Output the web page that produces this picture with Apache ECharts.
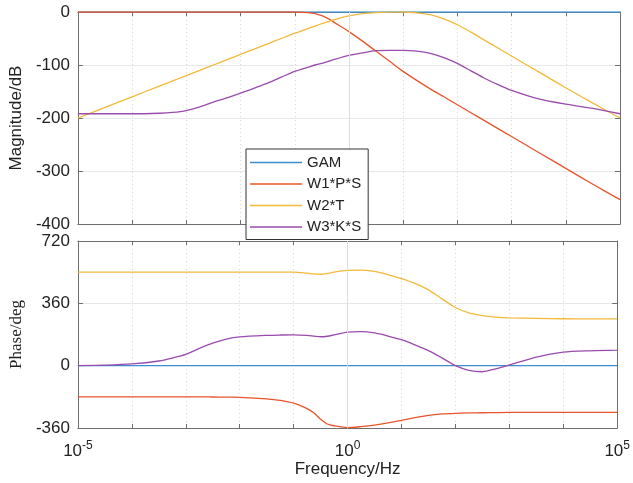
<!DOCTYPE html>
<html>
<head>
<meta charset="utf-8">
<script src="https://cdn.jsdelivr.net/npm/echarts@6/dist/echarts.min.js"></script>
<style>
  html, body { margin: 0; padding: 0; background: #fff; }
  #chart { width: 633px; height: 483px; }
</style>
</head>
<body>
<div id="chart"></div>
<script>
// Frequency grid as log10(f / Hz)
const logFreq = [-5, -4.5, -4, -3.5, -3.25, -3, -2.75, -2.5, -2.25, -2, -1.5, -1.25, -1, -0.75, -0.625, -0.5, -0.375, -0.25,
  0, 0.25, 0.5, 0.75, 1, 1.25, 1.5, 1.75, 2, 2.25, 2.5, 2.75, 3, 3.5, 4, 4.5, 5];

const seriesNames = ['GAM', 'W1*P*S', 'W2*T', 'W3*K*S'];

// Magnitude responses (dB)
const magGAM = [0, 0, 0, 0, 0, 0, 0, 0, 0, 0, 0, 0, 0, 0, 0, 0, 0, 0,
  0, 0, 0, 0, 0, 0, 0, 0, 0, 0, 0, 0, 0, 0, 0, 0, 0];
const magW1PS = [0, 0, 0, 0, 0, 0, 0, 0, 0, 0, 0, 0, 0, -1, -3, -7, -13, -21,
  -37, -55, -74, -93, -112, -129, -145, -160, -175, -190, -205, -220, -235, -265, -295, -325, -354];
const magW2T = [-200, -180, -160, -140, -130, -120, -110, -100, -90, -80, -60, -50, -40, -31, -26.5, -22, -18, -14,
  -7.5, -3, -1, -0.3, 0, -1.5, -5, -13, -24, -38, -53, -68, -83, -113, -143, -172, -200];
const magW3KS = [-192, -192, -192, -191, -189.5, -186, -179, -170, -162, -153, -134, -123, -112, -104, -100, -97, -93, -89,
  -82, -77, -73, -72.5, -72.5, -74, -78, -86, -97, -111, -125, -137, -148, -164, -174, -182, -192];

// Phase responses (deg)
const phGAM = [0, 0, 0, 0, 0, 0, 0, 0, 0, 0, 0, 0, 0, 0, 0, 0, 0, 0,
  0, 0, 0, 0, 0, 0, 0, 0, 0, 0, 0, 0, 0, 0, 0, 0, 0];
const phW1PS = [-180, -180, -180, -180, -180, -180, -180, -181, -182, -183, -192, -201, -217, -248, -272, -310, -337, -347,
  -358, -352, -343, -330, -316, -300, -287, -279, -275, -273, -272, -271, -270, -270, -270, -270, -270];
const phW2T = [540, 540, 540, 540, 540, 540, 540, 540, 540, 540, 540, 540, 540, 534, 530, 528, 532, 540,
  550, 552, 544, 526, 503, 475, 438, 386, 336, 305, 289, 280, 276, 273, 271, 270, 270];
const phW3KS = [0, 3, 10, 27, 44, 65, 100, 130, 153, 166, 175, 177, 178, 175, 171, 167, 170, 178,
  194, 197, 189, 171, 150, 120, 87, 45, 0, -27, -35, -18, 4, 50, 78, 86, 90];

const colors = ['#3b8ed0', '#e8552a', '#f2b93a', '#9b4aae'];
const FONT = 'Liberation Sans, Arial, sans-serif';
const axisColor = '#6e6e6e';
const textColor = '#222';

function pairs(vals) {
  return logFreq.map((x, i) => [x, vals[i]]);
}

function xAxisPair(gridIndex, withLabels) {
  return [
    {
      type: 'value', gridIndex: gridIndex, position: 'bottom',
      min: -5, max: 5, interval: 1,
      axisLine: { show: true, onZero: false, lineStyle: { color: axisColor, width: 1 } },
      axisTick: { show: true, inside: true, length: 4, lineStyle: { color: axisColor } },
      splitLine: { show: true, lineStyle: { color: '#d6d6d6', type: [1, 3], width: 1 } },
      axisLabel: withLabels ? {
        show: true, margin: 12, showMinLabel: true, showMaxLabel: true, hideOverlap: false,
        formatter: function (v) {
          if (v === -5 || v === 0 || v === 5) return '{b|10}{s|' + v + '}';
          return '';
        },
        rich: {
          b: { fontFamily: FONT, fontSize: 17, color: textColor },
          s: { fontFamily: FONT, fontSize: 12, color: textColor, padding: [0, 0, 10, 0] }
        }
      } : { show: false },
      name: withLabels ? 'Frequency/Hz' : '',
      nameLocation: 'middle', nameGap: 33,
      nameTextStyle: { fontFamily: FONT, fontSize: 17, color: textColor }
    },
    {
      type: 'value', gridIndex: gridIndex, position: 'top',
      min: -5, max: 5, interval: 1,
      axisLine: { show: true, onZero: false, lineStyle: { color: axisColor, width: 1 } },
      axisTick: { show: true, inside: true, length: 4, lineStyle: { color: axisColor } },
      splitLine: { show: false },
      axisLabel: { show: false }
    }
  ];
}

function yAxisPair(gridIndex, min, max, interval, name, nameFont) {
  return [
    {
      type: 'value', gridIndex: gridIndex, position: 'left',
      min: min, max: max, interval: interval,
      axisLine: { show: true, onZero: false, lineStyle: { color: axisColor, width: 1 } },
      axisTick: { show: true, inside: true, length: 5, lineStyle: { color: axisColor } },
      splitLine: { show: true, lineStyle: { color: '#e8e8e8', width: 1 } },
      axisLabel: { show: true, margin: 8, fontFamily: FONT, fontSize: 17, color: textColor },
      name: name, nameLocation: 'middle', nameGap: 49,
      nameTextStyle: { fontFamily: nameFont, fontSize: 17, color: textColor }
    },
    {
      type: 'value', gridIndex: gridIndex, position: 'right',
      min: min, max: max, interval: interval,
      axisLine: { show: true, onZero: false, lineStyle: { color: axisColor, width: 1 } },
      axisTick: { show: true, inside: true, length: 5, lineStyle: { color: axisColor } },
      splitLine: { show: false },
      axisLabel: { show: false }
    }
  ];
}

function lineSeries(name, vals, color, xIdx, yIdx, extra) {
  return Object.assign({
    type: 'line', name: name, data: pairs(vals),
    xAxisIndex: xIdx, yAxisIndex: yIdx,
    symbol: 'none', smooth: 0.25,
    lineStyle: { color: color, width: 1.3 },
    itemStyle: { color: color },
    animation: false
  }, extra || {});
}

// Solid major grid line at 10^0
const majorX = {
  silent: true, symbol: 'none', label: { show: false },
  lineStyle: { color: '#dedede', type: 'solid', width: 1 },
  data: [{ xAxis: 0 }],
  animation: false
};

const chart = echarts.init(document.getElementById('chart'), null, { renderer: 'canvas' });

chart.setOption({
  backgroundColor: '#ffffff',
  animation: false,
  grid: [
    { left: 77, right: 13, top: 12, height: 212 },
    { left: 77, right: 13, top: 241, height: 187 }
  ],
  xAxis: [].concat(xAxisPair(0, false), xAxisPair(1, true)),
  yAxis: [].concat(
    yAxisPair(0, -400, 0, 100, 'Magnitude/dB', FONT),
    yAxisPair(1, -360, 720, 360, 'Phase/deg', 'Liberation Serif, Times New Roman, serif')
  ),
  legend: {
    data: seriesNames,
    orient: 'vertical',
    left: 246, top: 149,
    padding: [5, 7, 4, 4],
    itemGap: 4.5,
    icon: 'rect',
    itemWidth: 52, itemHeight: 1.5,
    backgroundColor: '#ffffff',
    borderColor: '#333333', borderWidth: 1, borderRadius: 0,
    textStyle: { fontFamily: FONT, fontSize: 15, color: textColor, lineHeight: 17 },
    z: 10
  },
  series: [
    lineSeries(seriesNames[0], magGAM, colors[0], 0, 0, { markLine: majorX }),
    lineSeries(seriesNames[1], magW1PS, colors[1], 0, 0),
    lineSeries(seriesNames[2], magW2T, colors[2], 0, 0),
    lineSeries(seriesNames[3], magW3KS, colors[3], 0, 0),
    lineSeries(seriesNames[0], phGAM, colors[0], 2, 2, { markLine: majorX }),
    lineSeries(seriesNames[1], phW1PS, colors[1], 2, 2),
    lineSeries(seriesNames[2], phW2T, colors[2], 2, 2),
    lineSeries(seriesNames[3], phW3KS, colors[3], 2, 2)
  ]
});
</script>
</body>
</html>
